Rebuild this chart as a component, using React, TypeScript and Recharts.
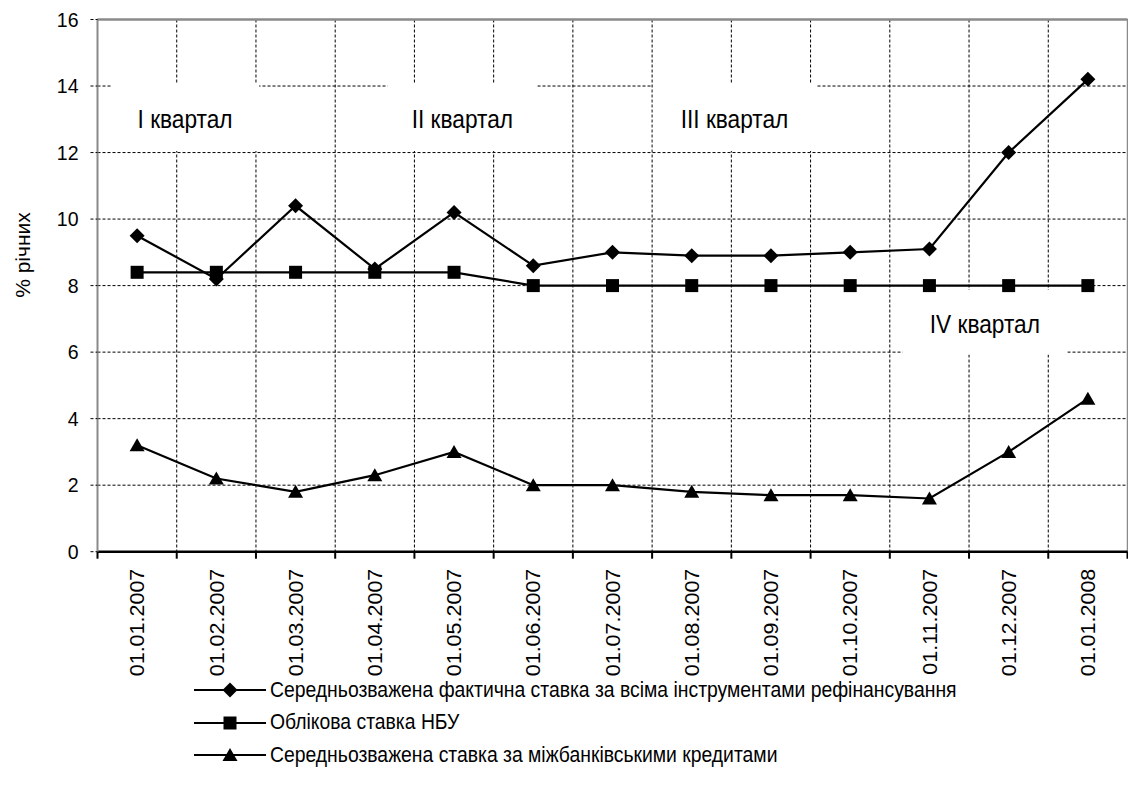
import React from 'react';
import {
  LineChart,
  Line,
  XAxis,
  YAxis,
  CartesianGrid,
  ReferenceArea,
  ReferenceLine,
  Legend,
} from 'recharts';

// Dates of observation (first day of each month)
const dates = [
  '01.01.2007', '01.02.2007', '01.03.2007', '01.04.2007', '01.05.2007',
  '01.06.2007', '01.07.2007', '01.08.2007', '01.09.2007', '01.10.2007',
  '01.11.2007', '01.12.2007', '01.01.2008',
];

// Weighted average actual rate across all refinancing instruments, % p.a.
const refinancingRate = [9.5, 8.2, 10.4, 8.5, 10.2, 8.6, 9.0, 8.9, 8.9, 9.0, 9.1, 12.0, 14.2];
// NBU discount rate, % p.a.
const discountRate = [8.4, 8.4, 8.4, 8.4, 8.4, 8.0, 8.0, 8.0, 8.0, 8.0, 8.0, 8.0, 8.0];
// Weighted average interbank credit rate, % p.a.
const interbankRate = [3.2, 2.2, 1.8, 2.3, 3.0, 2.0, 2.0, 1.8, 1.7, 1.7, 1.6, 3.0, 4.6];

const seriesNames = [
  'Середньозважена фактична ставка за всіма інструментами рефінансування',
  'Облікова ставка НБУ',
  'Середньозважена ставка за міжбанківськими кредитами',
];

const yTicks = [0, 2, 4, 6, 8, 10, 12, 14, 16];
const yTitle = '% річних';

const quarterLabels = ['I квартал', 'II квартал', 'III квартал', 'IV квартал'];
// Label panels in axis units: [x1, x2, y1, y2]
const quarterPanels: [number, number, number, number][] = [
  [-0.33, 1.54, 12.05, 14.07],
  [3.16, 5.05, 12.05, 14.07],
  [6.51, 8.57, 12.05, 14.07],
  [9.66, 11.74, 5.93, 7.87],
];

const FONT = "'Liberation Sans', Arial, sans-serif";

const data = dates.map((d, i) => ({
  idx: i,
  date: d,
  refinancing: refinancingRate[i],
  discount: discountRate[i],
  interbank: interbankRate[i],
}));

// month boundaries for the grid and axis tick marks
const boundaries = [...dates.map((_, i) => i - 0.5), dates.length - 0.5];
const centers = dates.map((_, i) => i);

type MarkerKind = 'diamond' | 'square' | 'triangle';

const Marker = ({ kind, cx, cy }: { kind: MarkerKind; cx: number; cy: number }) => {
  if (kind === 'diamond') {
    const r = 7.5;
    return <polygon points={`${cx},${cy - r} ${cx + r},${cy} ${cx},${cy + r} ${cx - r},${cy}`} fill="#000" />;
  }
  if (kind === 'square') {
    const h = 6.5;
    return <rect x={cx - h} y={cy - h} width={h * 2} height={h * 2} fill="#000" />;
  }
  return <polygon points={`${cx},${cy - 7} ${cx + 7.5},${cy + 6} ${cx - 7.5},${cy + 6}`} fill="#000" />;
};

const dotFor = (kind: MarkerKind) => (props: any) => {
  const { cx, cy, index } = props;
  if (cx == null || cy == null) return <g key={`n-${index}`} />;
  return <Marker key={`${kind}-${index}`} kind={kind} cx={cx} cy={cy} />;
};

const seriesKinds: MarkerKind[] = ['diamond', 'square', 'triangle'];

const DateTick = (props: any) => {
  const { x, y, payload } = props;
  const ty = y + 9;
  return (
    <text
      x={0}
      y={0}
      transform={`translate(${x}, ${ty}) rotate(-90) scale(1, 0.93)`}
      textAnchor="end"
      dominantBaseline="central"
      fontSize={21.5}
      fill="#000"
      fontFamily={FONT}
    >
      {dates[payload.value]}
    </text>
  );
};

const ValueTick = (props: any) => {
  const { x, y, payload } = props;
  return (
    <text
      x={0}
      y={0}
      transform={`translate(${x}, ${y}) scale(0.93, 1)`}
      textAnchor="end"
      dominantBaseline="central"
      fontSize={21}
      fill="#000"
      fontFamily={FONT}
    >
      {payload.value}
    </text>
  );
};

const quarterLabel = (text: string) => (p: any) => {
  const vb = p.viewBox || {};
  const cx = vb.x + vb.width / 2;
  const cy = vb.y + vb.height / 2;
  return (
    <text
      x={0}
      y={0}
      transform={`translate(${cx}, ${cy + 1.5}) scale(0.89, 1)`}
      textAnchor="middle"
      dominantBaseline="central"
      fontSize={25.5}
      fill="#000"
      fontFamily={FONT}
    >
      {text}
    </text>
  );
};

const LegendContent = () => (
  <div style={{ fontFamily: FONT, fontSize: 21.5, color: '#000' }}>
    {seriesNames.map((name, i) => (
      <div key={name} style={{ display: 'flex', alignItems: 'center', height: 32.5 }}>
        <svg width={72} height={20} style={{ display: 'block', flex: 'none' }}>
          <line x1={0} y1={10} x2={72} y2={10} stroke="#000" strokeWidth={2} />
          <Marker kind={seriesKinds[i]} cx={36} cy={10} />
        </svg>
        <span
          style={{
            marginLeft: 4,
            whiteSpace: 'nowrap',
            display: 'inline-block',
            transform: 'scaleX(0.9)',
            transformOrigin: 'left center',
          }}
        >
          {name}
        </span>
      </div>
    ))}
  </div>
);

export default function App() {
  return (
    <div style={{ position: 'absolute', left: 0, top: 0, width: 1128, height: 805, background: '#fff', fontFamily: FONT }}>
      <LineChart
        width={1128}
        height={805}
        data={data}
        margin={{ top: 19.5, right: 0.5, left: 37.5, bottom: 135.3 }}
      >
        <CartesianGrid stroke="#000" strokeWidth={1} strokeDasharray="3 2" vertical horizontal />
        <XAxis
          dataKey="idx"
          type="number"
          domain={[-0.5, dates.length - 0.5]}
          ticks={boundaries}
          interval={0}
          height={8}
          axisLine={{ stroke: '#000', strokeWidth: 2.5 }}
          tickLine={{ stroke: '#000', strokeWidth: 2 }}
          tickSize={7}
          tick={() => <g />}
        />
        <XAxis
          xAxisId="labels"
          dataKey="idx"
          type="number"
          domain={[-0.5, dates.length - 0.5]}
          ticks={centers}
          interval={0}
          height={110}
          axisLine={false}
          tickLine={false}
          tickSize={0}
          tickMargin={0}
          tick={<DateTick />}
        />
        <YAxis
          type="number"
          domain={[0, 16]}
          ticks={yTicks}
          interval={0}
          width={60}
          axisLine={{ stroke: '#8a8a8a', strokeWidth: 2 }}
          tickLine={{ stroke: '#000', strokeDasharray: '3 2' }}
          tickSize={7}
          tickMargin={12}
          tick={<ValueTick />}
          label={() => (
            <text
              x={0}
              y={0}
              transform="translate(22, 255) rotate(-90)"
              textAnchor="middle"
              dominantBaseline="central"
              fontSize={21}
              fill="#000"
              fontFamily={FONT}
            >
              {yTitle}
            </text>
          )}
        />
        {quarterPanels.map(([x1, x2, y1, y2], i) => (
          <ReferenceArea
            key={quarterLabels[i]}
            x1={x1}
            x2={x2}
            y1={y1}
            y2={y2}
            fill="#fff"
            fillOpacity={1}
            stroke="none"
            ifOverflow="visible"
            label={quarterLabel(quarterLabels[i])}
          />
        ))}
        <ReferenceLine y={16} stroke="#8a8a8a" strokeWidth={2.5} ifOverflow="visible" />
        <ReferenceLine x={dates.length - 0.5} stroke="#8a8a8a" strokeWidth={1.5} ifOverflow="visible" />
        <Line
          dataKey="refinancing"
          name={seriesNames[0]}
          stroke="#000"
          strokeWidth={2.2}
          dot={dotFor('diamond')}
          activeDot={false}
          isAnimationActive={false}
        />
        <Line
          dataKey="discount"
          name={seriesNames[1]}
          stroke="#000"
          strokeWidth={2.2}
          dot={dotFor('square')}
          activeDot={false}
          isAnimationActive={false}
        />
        <Line
          dataKey="interbank"
          name={seriesNames[2]}
          stroke="#000"
          strokeWidth={2.2}
          dot={dotFor('triangle')}
          activeDot={false}
          isAnimationActive={false}
        />
        <Legend
          layout="vertical"
          align="center"
          verticalAlign="middle"
          wrapperStyle={{ left: 194, top: 673.75, width: 'auto' }}
          content={() => <LegendContent />}
        />
      </LineChart>
    </div>
  );
}
